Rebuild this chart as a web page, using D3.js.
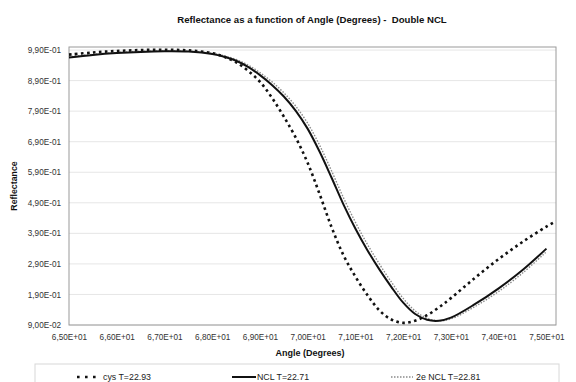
<!DOCTYPE html>
<html>
<head>
<meta charset="utf-8">
<script src="https://cdn.jsdelivr.net/npm/d3@7"></script>
<style>
  html, body { margin: 0; padding: 0; background: #fff; }
  svg { display: block; font-family: "Liberation Sans", Arial, sans-serif; }
</style>
</head>
<body>
<svg id="chart" width="576" height="382"></svg>
<script>
// Reflectance curves (angle in degrees, reflectance)
const anglesCys = [65.0, 65.5, 66.0, 66.5, 67.0, 67.5, 68.0, 68.25, 68.5, 68.75, 69.0, 69.25, 69.5, 69.75, 70.0, 70.25, 70.5, 70.75, 71.0, 71.25, 71.5, 71.75, 72.0, 72.25, 72.5, 72.75, 73.0, 73.5, 74.0, 74.5, 75.0, 75.2];
const reflCys   = [0.975, 0.982, 0.987, 0.990, 0.991, 0.989, 0.980, 0.968, 0.950, 0.922, 0.886, 0.834, 0.772, 0.703, 0.620, 0.518, 0.410, 0.318, 0.248, 0.188, 0.138, 0.108, 0.097, 0.104, 0.122, 0.148, 0.178, 0.244, 0.306, 0.362, 0.412, 0.430];

const anglesNcl = [65.0, 65.5, 66.0, 66.5, 67.0, 67.5, 68.0, 68.25, 68.5, 68.75, 69.0, 69.25, 69.5, 69.75, 70.0, 70.25, 70.5, 70.75, 71.0, 71.25, 71.5, 71.75, 72.0, 72.25, 72.5, 72.75, 73.0, 73.5, 74.0, 74.5, 75.0];
const reflNcl   = [0.966, 0.974, 0.980, 0.984, 0.986, 0.985, 0.977, 0.968, 0.955, 0.935, 0.908, 0.876, 0.838, 0.791, 0.732, 0.657, 0.572, 0.484, 0.405, 0.335, 0.272, 0.215, 0.163, 0.126, 0.107, 0.104, 0.114, 0.158, 0.210, 0.270, 0.340];

const angles2e  = [65.0, 65.5, 66.0, 66.5, 67.0, 67.5, 68.0, 68.25, 68.5, 68.75, 69.0, 69.25, 69.5, 69.75, 70.0, 70.25, 70.5, 70.75, 71.0, 71.25, 71.5, 71.75, 72.0, 72.25, 72.5, 72.75, 73.0, 73.5, 74.0, 74.5, 75.0];
const refl2e    = [0.968, 0.976, 0.982, 0.986, 0.987, 0.986, 0.979, 0.971, 0.959, 0.941, 0.916, 0.886, 0.850, 0.806, 0.750, 0.678, 0.594, 0.506, 0.426, 0.354, 0.290, 0.231, 0.177, 0.136, 0.112, 0.104, 0.110, 0.150, 0.200, 0.260, 0.330];

const seriesNames = ["cys T=22.93", "NCL T=22.71", "2e NCL T=22.81"];
const xTicks = [65, 66, 67, 68, 69, 70, 71, 72, 73, 74, 75];
const yTicks = [0.09, 0.19, 0.29, 0.39, 0.49, 0.59, 0.69, 0.79, 0.89, 0.99];

const svg = d3.select("#chart");
const plot = { left: 69, right: 556, top: 47, bottom: 325 };

const x = d3.scaleLinear().domain([65, 75.2]).range([plot.left, plot.right]);
const y = d3.scaleLinear().domain([0.09, 1.0]).range([plot.bottom, plot.top]);

// Scientific labels with decimal comma, e.g. 6,50E+01
function sci(v) {
  const s = v.toExponential(2).toUpperCase();
  const [m, e] = s.split("E");
  const sign = e[0] === "-" ? "-" : "+";
  const digits = e.replace(/[+-]/, "").padStart(2, "0");
  return m.replace(".", ",") + "E" + sign + digits;
}

// Horizontal gridlines
svg.append("g")
  .selectAll("line")
  .data(yTicks)
  .join("line")
  .attr("x1", plot.left).attr("x2", plot.right)
  .attr("y1", d => y(d)).attr("y2", d => y(d))
  .attr("stroke", "#e6e6e6").attr("stroke-width", 1);

// Plot frame
svg.append("rect")
  .attr("x", plot.left).attr("y", plot.top)
  .attr("width", plot.right - plot.left).attr("height", plot.bottom - plot.top)
  .attr("fill", "none").attr("stroke", "#9a9a9a").attr("stroke-width", 1);

// Axes
const yAxis = d3.axisLeft(y).tickValues(yTicks).tickFormat(sci).tickSize(0).tickPadding(8);
svg.append("g").attr("transform", `translate(${plot.left},0)`).call(yAxis)
  .call(g => g.select(".domain").remove())
  .call(g => g.selectAll("text").attr("font-size", 8.2).attr("fill", "#333")
    .attr("font-family", "'Liberation Sans', Arial, sans-serif"));

const xAxis = d3.axisBottom(x).tickValues(xTicks).tickFormat(sci).tickSize(0).tickPadding(9);
svg.append("g").attr("transform", `translate(0,${plot.bottom})`).call(xAxis)
  .call(g => g.select(".domain").remove())
  .call(g => g.selectAll("text").attr("font-size", 8.2).attr("fill", "#333")
    .attr("font-family", "'Liberation Sans', Arial, sans-serif"));

// Curves
const line = d3.line().x(d => x(d[0])).y(d => y(d[1])).curve(d3.curveCatmullRom.alpha(0.5));
const zipped = (a, b) => a.map((v, i) => [v, b[i]]);

svg.append("path").datum(zipped(angles2e, refl2e))
  .attr("d", line).attr("fill", "none")
  .attr("stroke", "#8a8a8a").attr("stroke-width", 1.4).attr("stroke-dasharray", "1.5,1.5");

svg.append("path").datum(zipped(anglesNcl, reflNcl))
  .attr("d", line).attr("fill", "none")
  .attr("stroke", "#111").attr("stroke-width", 2);

svg.append("path").datum(zipped(anglesCys, reflCys))
  .attr("d", line).attr("fill", "none")
  .attr("stroke", "#111").attr("stroke-width", 2.6).attr("stroke-dasharray", "2.6,3.4");

// Title and axis titles
svg.append("text").attr("x", 312).attr("y", 23).attr("text-anchor", "middle")
  .attr("font-size", 9.6).attr("font-weight", "bold").attr("fill", "#111")
  .attr("xml:space", "preserve")
  .text("Reflectance as a function of Angle (Degrees) -  Double NCL");

svg.append("text").attr("x", 310).attr("y", 356).attr("text-anchor", "middle")
  .attr("font-size", 9).attr("font-weight", "bold").attr("fill", "#111")
  .text("Angle (Degrees)");

svg.append("text").attr("transform", "translate(17,186) rotate(-90)").attr("text-anchor", "middle")
  .attr("font-size", 8.8).attr("font-weight", "bold").attr("fill", "#111")
  .text("Reflectance");

// Legend
svg.append("rect").attr("x", 35).attr("y", 364).attr("width", 524).attr("height", 30)
  .attr("fill", "none").attr("stroke", "#d8d8d8").attr("stroke-width", 1);

const legendY = 377;
const legend = [
  { x1: 77, x2: 101, tx: 103, color: "#111", width: 2.6, dash: "2.6,5.4" },
  { x1: 232, x2: 256, tx: 257, color: "#111", width: 2, dash: null },
  { x1: 391, x2: 413, tx: 416, color: "#8a8a8a", width: 1.4, dash: "1.5,1.5" }
];
legend.forEach((l, i) => {
  const ln = svg.append("line").attr("x1", l.x1).attr("x2", l.x2)
    .attr("y1", legendY).attr("y2", legendY)
    .attr("stroke", l.color).attr("stroke-width", l.width);
  if (l.dash) ln.attr("stroke-dasharray", l.dash);
  svg.append("text").attr("x", l.tx).attr("y", legendY + 3)
    .attr("font-size", 8.8).attr("fill", "#222").text(seriesNames[i]);
});
</script>
</body>
</html>
